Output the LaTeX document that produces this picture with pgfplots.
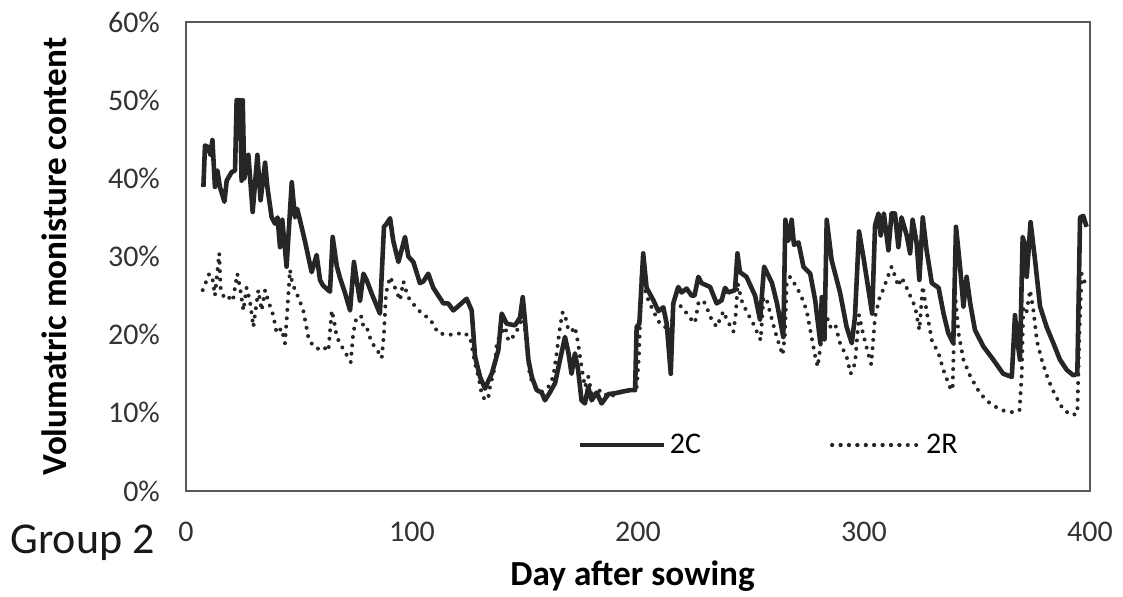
\documentclass[border=0pt]{standalone}
\usepackage{fontspec}
\setmainfont{Carlito}
\usepackage{pgfplots}
\pgfplotsset{compat=1.18}
\begin{document}
\begin{tikzpicture}
\useasboundingbox (-93pt,-52.5pt) rectangle (468.5pt,245.5pt);
\begin{axis}[
 at={(0,0)}, anchor=south west,
 scale only axis, width=452pt, height=234.5pt,
 xmin=0,xmax=400,ymin=0,ymax=60,
 xtick={0,100,200,300,400}, ytick={0,10,...,60},
 major tick length=0pt,
 axis line style={black!65, line width=0.8pt},
 /pgf/number format/assume math mode=true,
 yticklabel={\pgfmathprintnumber{\tick}\%},
 ticklabel style={font=\fontsize{15}{18}\selectfont, text=black!80},
 yticklabel style={xshift=-9.5pt},
 xticklabel style={yshift=-12pt},
 xlabel={Day after sowing}, ylabel={Volumatric monisture content},
 label style={font=\fontsize{17.6}{20}\selectfont\bfseries},
 xlabel style={at={(axis description cs:0.494,-0.182)}, anchor=center},
 ylabel style={at={(axis description cs:-0.146,0.5)}, anchor=center},
 legend columns=2,
 legend style={draw=none, fill=none, at={(axis description cs:0.4325,0.098)}, anchor=west,
   font=\fontsize{15}{18}\selectfont, inner sep=0pt,
   /tikz/every even column/.append style={column sep=62.5pt}},
 legend image code/.code={\draw[#1] (0pt,0pt) -- (42pt,0pt);},
]
\addplot[black!85, line width=2.3pt, line join=round] coordinates {
(7.7,38.9)(8.4,44.2)(9.9,44)(10.8,43)(11.7,44.9)(12.8,38.9)(13.9,41)(15,38.9)(17,37)(18,39.7)
(20.2,40.8)(21.7,41)(22.4,50)(23.9,50)(24.6,39.7)(25.1,50)(25.8,40)(27.6,43)(29.5,35.7)(31.6,43)
(33,37.2)(35,42)(36,38.9)(37.9,35)(39.4,34.2)(40.5,35)(41.6,31.2)(42.6,34.7)(44.5,28.7)(46.8,39.5)
(48.2,35)(49.2,36.1)(50.4,34.7)(52.6,32)(55.6,28)(57.8,30.2)(59.3,27)(60.6,26.3)(63.7,25.5)(64.9,32.5)
(66.7,28.8)(68.1,27.3)(70.4,25.3)(72.6,23.1)(74.3,29.3)(75.5,27)(77,24.3)(78.5,27.8)(79.9,27)(82.1,25.3)
(85.8,22.7)(87.6,33.8)(88.8,34.2)(90.3,34.9)(91.7,32)(94,29.3)(96.9,32.5)(98.4,30)(100.6,29.3)(103.5,26.6)
(105,26.8)(107.2,27.8)(109.4,26)(113.9,24)(116,24)(118.3,23.1)(124.2,24.6)(126.4,23.1)(127.9,17.2)(130.1,14.6)
(132.3,13.1)(133.8,14.1)(135.3,15)(138.2,18)(139.7,22.7)(141.9,21.4)(145.6,21.2)(147.8,22.2)(149,24.8)(150,21.8)
(151.5,16.8)(153,14.6)(155.2,12.9)(157.4,12.6)(158.8,11.6)(161,12.6)(163.3,13.8)(165.5,16.8)(167.7,19.7)(169.2,17.7)
(170.6,15)(172.1,17.6)(173.5,15.5)(175,11.6)(176.5,11.2)(178,13.3)(179.5,11.6)(181.7,12.6)(183.9,11.2)(186.9,12.4)
(189.8,12.5)(192.8,12.7)(196.5,12.9)(198.7,12.9)(199.4,21)(200.6,21.4)(202.3,30.4)(203.8,26)(206.8,24.4)(209,23)
(211.2,23.5)(212.7,21.4)(214.5,15)(215.6,24)(217.8,26.1)(219.3,25.4)(221.5,25.9)(223.7,25)(225,25)(226.7,27.4)
(228.1,26.6)(231.9,26.1)(234.8,24)(237,24.4)(238.5,26)(240,25.4)(242.9,25.7)(244,30.4)(245.1,28)(248,27.4)
(251.8,25)(254,21.9)(255.8,28.7)(259.3,26.6)(261.5,24)(264.3,19.7)(265.2,34.7)(266.5,32)(268,34.7)(269,31.5)
(271,31.8)(273.2,28.7)(276.2,27.8)(278.4,24.4)(280.7,18.9)(281.3,24.8)(282.5,19.4)(283.5,34.7)(285.7,29.5)(289.4,25.4)
(292.3,21)(294.6,18.9)(296,22.3)(297.8,33.2)(299.7,30)(302.7,24.4)(303.6,22.7)(304.9,34)(306.4,35.5)(307.4,32.7)
(308.8,35.5)(310.8,30.8)(312.2,35.5)(313.7,35.5)(315.2,31.2)(316.6,35)(318.9,32.7)(320.4,30.4)(321.5,34.7)(323.3,31.7)
(324.5,27)(326,35)(327.7,30.8)(330,26.6)(333,26)(335.2,22.7)(337.3,20.2)(339.5,18.9)(340.7,33.8)(342.5,28.7)
(344,23.6)(345.4,27.4)(347,24)(349.1,20.6)(352.8,18.5)(357.2,16.8)(361.6,15)(365.4,14.6)(366.1,18.5)(366.8,22.5)
(368,18.9)(369,16.8)(370.2,32.5)(371.2,31.5)(372,27.4)(373.7,34.4)(375.7,29.5)(377.9,23.6)(380.8,21)(383.8,18.9)
(386.7,16.8)(389.7,15.5)(392.6,14.8)(394.4,15)(395.6,35)(397,35.2)(398.5,33.8)
};
\addlegendentry{2C}
\addplot[black!85, line width=2pt, line cap=round, line join=round, dash pattern=on 0pt off 4.2pt,
  legend image code/.code={\draw[black!85, line width=2pt, line cap=round, dash pattern=on 0pt off 4.2pt] (0pt,0pt) -- (33.6pt,0pt); \path (0pt,0pt) -- (44pt,0pt);}] coordinates {
(7.4,25.7)(10.3,27.8)(11.8,27)(12.8,25)(14.7,30.4)(15.3,26)(17,24.6)(18.8,24.8)(20.7,24.3)(22.7,27.8)
(23.9,26)(25.4,23.1)(26.8,26)(28.3,24.3)(29.8,21)(32,25.7)(33.5,23.1)(35,25.7)(36.4,24.3)(38.6,22.5)
(40.1,20.2)(42.3,20.8)(43.8,18.9)(44.8,23)(46,28.3)(46.8,27)(48.2,25.7)(49.7,24.8)(51.9,23.1)(54.1,19.7)
(56.3,18.5)(58.5,18.2)(60.5,18.5)(63,17.9)(64.5,23.1)(65.5,21.8)(66.7,19.7)(68.9,18.5)(71.1,17.4)(72.9,16.5)
(74,20.2)(75.5,22.3)(77.7,22.3)(78.5,21)(79.9,21)(82.1,19)(84.3,18.2)(86.6,17)(87.6,20.2)(88.5,25.3)
(90.3,27.4)(92.5,26)(94.7,24.4)(96.2,26.8)(97.7,25.3)(99.1,24.4)(104.3,22.7)(108,22)(111.6,20.2)(115.3,20)
(119,20)(122.7,20.3)(125.7,19.7)(127.9,16.3)(129.4,14.6)(130.8,12.5)(132.3,11.6)(133.8,12)(134.5,13.3)(136.7,15.9)
(137.5,18.9)(139,20)(141.2,21)(142.7,19.2)(145.6,20)(147.8,21.4)(149.3,22.7)(150.7,18.5)(152.2,14.6)(154.4,13.3)
(157.4,12.7)(160.3,13.3)(162.5,14.6)(164,17.6)(165.5,21)(166.7,22.9)(167.7,22.5)(169.2,20.6)(170.6,20.4)(172.1,21)
(173.5,18.9)(175,15.9)(176.5,13.3)(178,14.6)(179.5,12.5)(183.9,12.9)(186.9,12)(191.3,12.5)(195.7,12.9)(199.4,13.3)
(200.4,17.2)(201.6,28)(202.3,26.4)(204.6,24.4)(206.8,23)(209.7,21.4)(212,21)(214.2,19.3)(215.6,24)(219.3,23.6)
(223.7,21.9)(225.2,21.5)(226.7,24)(228.9,24.4)(231.1,23)(232.6,21.9)(234.8,21)(237.8,23)(239.2,22)(242.2,20.4)
(243.3,22.7)(244.1,26.6)(245.8,24.4)(248,23)(251,21.4)(253.2,20)(254.3,19.3)(255.5,24.8)(257,24.4)(259.3,21.9)
(261.4,19.7)(264,17.4)(265,20)(265.8,26.6)(267.3,27.4)(270.2,26.1)(272.4,24.8)(274.6,23.1)(276.8,19.7)(278.3,17.4)
(279.5,15.9)(280.5,18)(281.3,20)(282.8,23)(285,21)(287.2,21.4)(289.4,18.9)(292.3,17.2)(294.1,15)(296,16.3)
(297.8,22.5)(299.7,20)(301.5,18)(303.2,16.2)(304.9,22.3)(307.1,25)(308.6,25.8)(310,27)(312.2,28.7)(313.7,27.5)
(315.2,26.2)(316.6,27.3)(318.1,26.5)(320.4,25)(322.6,23.6)(324.5,20.6)(326,26.2)(327.7,23)(330,19.3)(333,17.6)
(335.1,15.5)(338,13.3)(339.2,12.9)(340.3,25.3)(341.8,20.2)(344,16.8)(347,14.7)(351.3,12.5)(355,11.4)(358,10.8)
(361.6,10.3)(365.4,10.1)(368.8,10.3)(369.8,15)(370.5,23.6)(372,23)(373.5,25.7)(375,23)(376.5,19.2)(378.8,16.6)
(381.6,14.2)(384.5,12.3)(388.2,10.4)(391.9,9.7)(394.4,9.9)(395.3,20.2)(396.3,27.8)(398.2,26.3)
};
\addlegendentry{2R}
\end{axis}
\node[anchor=west, font=\fontsize{22}{26}\selectfont, text=black!90, inner sep=0pt] at (-88pt,-26pt) {Group 2};
\end{tikzpicture}
\end{document}
